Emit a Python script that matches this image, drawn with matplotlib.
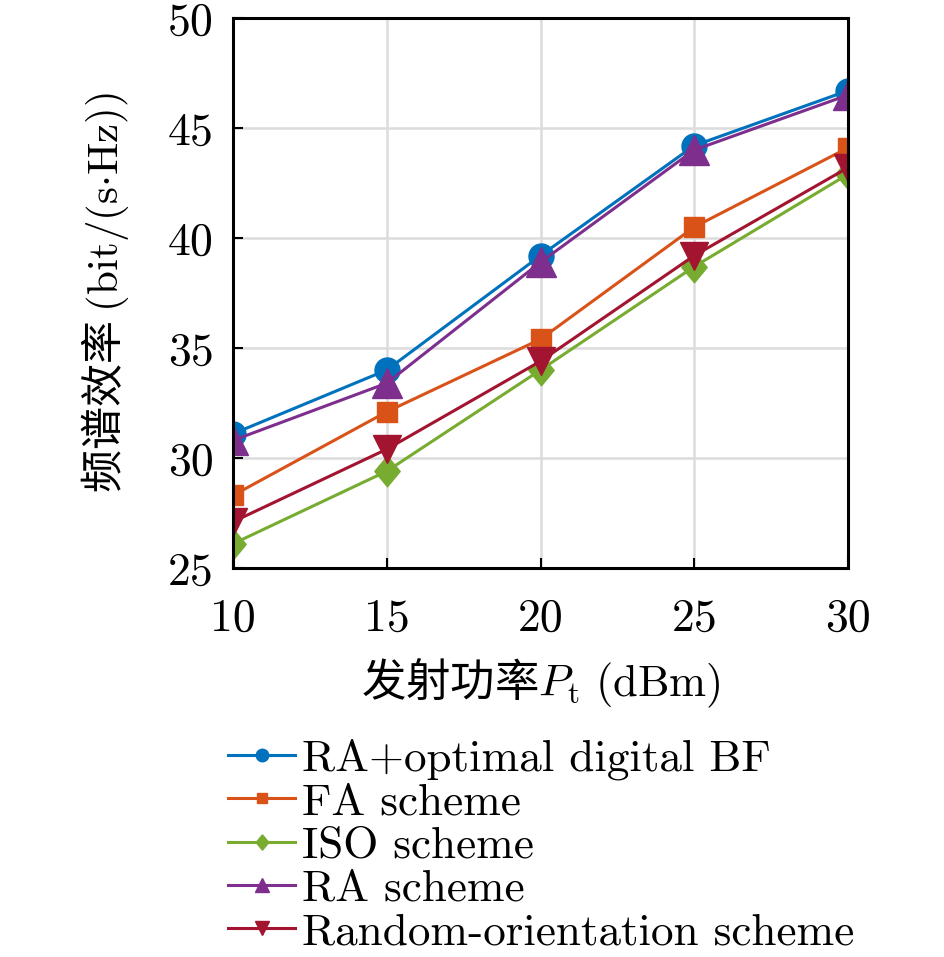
import numpy as np
import matplotlib
matplotlib.use('Agg')
import matplotlib.pyplot as plt

plt.rcParams['font.family'] = ['Noto Sans CJK SC', 'DejaVu Sans']
plt.rcParams['mathtext.fontset'] = 'cm'

# transmit power (dBm)
power = [10, 15, 20, 25, 30]

# spectral efficiency, bit/(s*Hz)
ra_opt = [31.1, 34.0, 39.2, 44.2, 46.7]
fa = [28.3, 32.1, 35.4, 40.5, 44.1]
iso = [26.1, 29.4, 34.0, 38.7, 42.9]
ra = [30.8, 33.4, 38.9, 44.0, 46.5]
rand_orient = [27.1, 30.4, 34.4, 39.2, 43.2]

labels = ['RA+optimal digital BF', 'FA scheme', 'ISO scheme', 'RA scheme',
          'Random-orientation scheme']

diamond = [(0, 1), (0.83, 0), (0, -1), (-0.83, 0), (0, 1)]

fig = plt.figure(figsize=(9.45, 9.57), dpi=100)
ax = fig.add_axes([0.2466, 0.4065, 0.6508, 0.5747])

ax.plot(power, ra_opt, color='#0072BD', lw=2.2, marker='o', ms=18, label=labels[0])
ax.plot(power, fa, color='#D95319', lw=2.2, marker='s', ms=15, label=labels[1])
ax.plot(power, iso, color='#77AC30', lw=2.2, marker=diamond, ms=22, label=labels[2])
ax.plot(power, ra, color='#7E2F8E', lw=2.2, marker='^', ms=21, label=labels[3])
ax.plot(power, rand_orient, color='#A2142F', lw=2.2, marker='v', ms=20, label=labels[4])

ax.set_xlim(10, 30)
ax.set_ylim(25, 50)
ax.set_xticks([10, 15, 20, 25, 30])
ax.set_yticks([25, 30, 35, 40, 45, 50])
ax.grid(True, color='#dcdcdc', lw=1.8)
ax.set_axisbelow(True)
for s in ax.spines.values():
    s.set_linewidth(2.2)
    s.set_color('black')
ax.tick_params(direction='in', length=7, width=1.5, labelsize=33)
ax.tick_params(axis='x', pad=22)
ax.tick_params(axis='y', pad=14)
for t in ax.get_xticklabels() + ax.get_yticklabels():
    t.set_fontfamily('cmr10')

ax.set_xlabel('发射功率$P_\\mathrm{t}\\ (\\mathrm{dBm})$', fontsize=32, labelpad=12)
ax.set_ylabel('频谱效率 $(\\mathrm{bit/(s{\\cdot}Hz)})$', fontsize=31, labelpad=26)

fig.legend(loc='upper left', bbox_to_anchor=(0.241, 0.2285), frameon=False,
           prop={'family': 'cmr10', 'size': 32.5}, markerscale=0.5,
           handlelength=1.5, handletextpad=0.15, labelspacing=0.06,
           borderpad=0, borderaxespad=0)

fig.savefig('out.png', dpi=100)
